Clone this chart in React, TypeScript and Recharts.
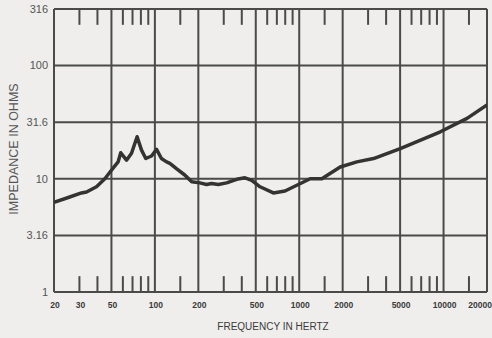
import React from 'react';
import { LineChart, Line, XAxis, YAxis, CartesianGrid, ReferenceLine } from 'recharts';

const frequencies = [20, 25.7, 31, 33.6, 39.4, 45, 50, 55.6, 58, 63.6, 68.9, 75.3, 80.8, 86.5, 94.8, 102.7, 111, 120.5, 127, 141, 161, 180, 205, 228, 247, 275, 314, 369, 421, 469, 535, 662, 798, 865, 1191, 1435, 1923, 2507, 3273, 5012, 9500, 14550, 20000];
const impedances = [6.2, 6.9, 7.5, 7.65, 8.5, 10, 11.9, 14.1, 17, 14.6, 16.8, 23.5, 17.9, 15.1, 15.9, 18.2, 15.1, 14.1, 13.7, 12.3, 10.8, 9.4, 9.2, 8.9, 9.1, 8.9, 9.2, 9.9, 10.2, 9.7, 8.5, 7.5, 7.8, 8.2, 10, 10, 12.7, 14.1, 15.1, 18.5, 26, 34.2, 45];

const xTickLabels = [20, 30, 50, 100, 200, 500, 1000, 2000, 5000, 10000, 20000];
const xGridValues = [20, 50, 100, 200, 500, 1000, 2000, 5000, 10000, 20000];
const xMinorTicks = [30, 40, 60, 70, 80, 90, 150, 300, 400, 600, 700, 800, 900, 1500, 3000, 4000, 6000, 7000, 8000, 9000, 15000];
const yTickValues = [1, 3.16, 10, 31.6, 100, 316];

const data = frequencies.map((f, i) => ({ f, z: impedances[i] }));

const GRID = '#4a4a4a';
const FONT = '"Liberation Sans", Arial, Helvetica, sans-serif';
const MINOR_RATIO = 1.38;

const XTick = (props: any) => {
  const { x, y, payload } = props;
  const isLast = payload.value === 20000;
  return (
    <text x={isLast ? x + 5 : x + 1} y={y + 16} textAnchor={isLast ? 'end' : 'middle'} fontSize={8.5} fontWeight={700} fill="#3a3a3a" fontFamily={FONT}>
      {payload.value}
    </text>
  );
};

export default function App() {
  return (
    <div style={{ position: 'absolute', left: 0, top: 0, width: 492, height: 338, background: '#efeeec' }}>
      <LineChart width={492} height={338} data={data} margin={{ top: 9, right: 5, bottom: 0, left: 0 }}>
        <CartesianGrid stroke={GRID} strokeWidth={2} verticalValues={xGridValues} horizontalValues={yTickValues} />
        <XAxis
          dataKey="f"
          type="number"
          scale="log"
          domain={[20, 20000]}
          ticks={xTickLabels}
          interval={0}
          allowDataOverflow
          axisLine={false}
          tickLine={false}
          tickSize={0}
          tickMargin={0}
          height={46}
          tick={<XTick />}
          label={{
            content: (p: any) => {
              const vb = p.viewBox || {};
              return (
                <text x={273} y={330} textAnchor="middle" fontSize={10} fill="#3a3a3a" fontFamily={FONT}>
                  FREQUENCY IN HERTZ
                </text>
              );
            },
          }}
        />
        <YAxis
          type="number"
          scale="log"
          domain={[1, 316]}
          ticks={yTickValues}
          interval={0}
          allowDataOverflow
          axisLine={false}
          tickLine={false}
          tickSize={0}
          tickMargin={6}
          width={54}
          tick={{ fontSize: 11, fill: '#555', fontFamily: FONT }}
          label={{
            content: () => (
              <text x={0} y={0} transform="translate(18 149) rotate(-90)" textAnchor="middle" fontSize={12.5} fill="#555" fontFamily={FONT}>
                IMPEDANCE IN OHMS
              </text>
            ),
          }}
        />
        {xMinorTicks.map((f) => (
          <ReferenceLine key={'b' + f} segment={[{ x: f, y: 1 }, { x: f, y: MINOR_RATIO }]} stroke={GRID} strokeWidth={2} ifOverflow="visible" />
        ))}
        {xMinorTicks.map((f) => (
          <ReferenceLine key={'t' + f} segment={[{ x: f, y: 316 / MINOR_RATIO }, { x: f, y: 316 }]} stroke={GRID} strokeWidth={2} ifOverflow="visible" />
        ))}
        <Line dataKey="z" type="linear" stroke="#333" strokeWidth={3.5} dot={false} isAnimationActive={false} strokeLinejoin="round" />
      </LineChart>
    </div>
  );
}
